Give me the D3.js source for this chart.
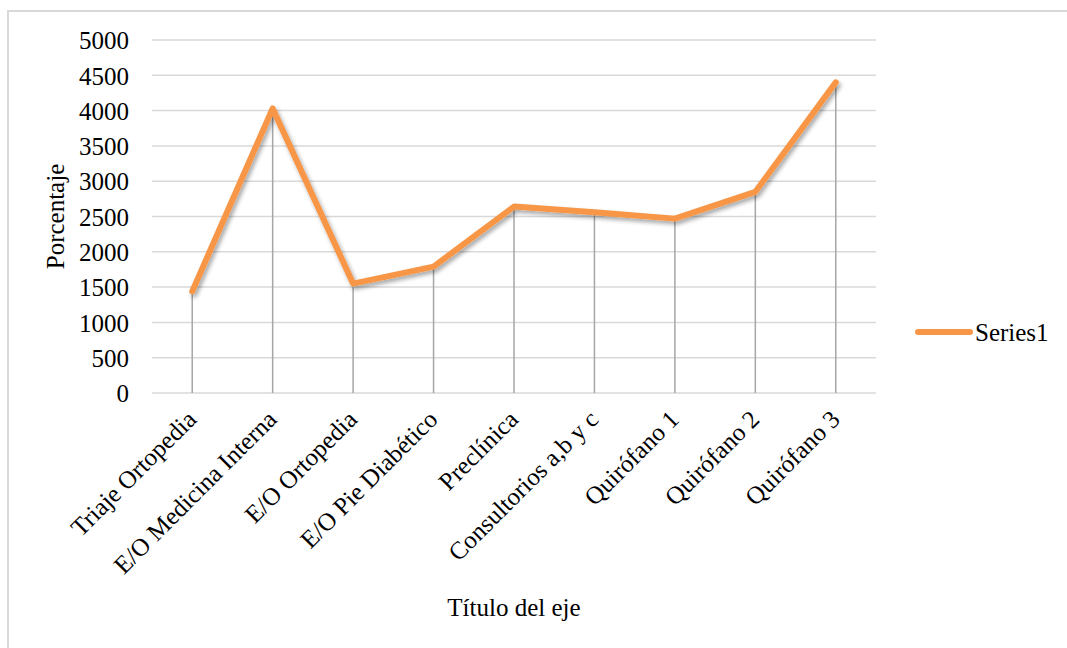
<!DOCTYPE html>
<html><head><meta charset="utf-8">
<script src="https://cdn.jsdelivr.net/npm/d3@7"></script>
<style>html,body{margin:0;padding:0;background:#fff;}svg{display:block;}</style>
</head><body>
<svg id="chart" width="1067" height="648"></svg>
<script>
const categories = ["Triaje Ortopedia","E/O Medicina Interna","E/O Ortopedia","E/O Pie Diabético","Preclínica","Consultorios a,b y c","Quirófano 1","Quirófano 2","Quirófano 3"];
const series1 = [1440, 4030, 1550, 1790, 2640, 2560, 2470, 2850, 4400];
const yTicks = [0,500,1000,1500,2000,2500,3000,3500,4000,4500,5000];
const seriesName = "Series1";
const yTitle = "Porcentaje";
const xTitle = "Título del eje";

const svg = d3.select("#chart");
const W = 1067, H = 648;
const font = "'Liberation Serif', serif";
const fs = 25;
const m = {left:152, right:1067-876, top:40, bottom:648-393};

svg.append("rect").attr("x",8).attr("y",11).attr("width",W+10).attr("height",H+10)
  .attr("fill","#fff").attr("stroke","#d9d9d9").attr("stroke-width",2);

const defs = svg.append("defs");
const f = defs.append("filter").attr("id","sh").attr("x","-10%").attr("y","-10%").attr("width","120%").attr("height","130%");
f.append("feDropShadow").attr("dx",2).attr("dy",3).attr("stdDeviation",2).attr("flood-color","#000").attr("flood-opacity",0.35);

const x = d3.scalePoint().domain(categories).range([m.left, W-m.right]).padding(0.5);
const y = d3.scaleLinear().domain([0,5000]).range([H-m.bottom, m.top]);

// gridlines
svg.append("g").selectAll("line").data(yTicks).join("line")
  .attr("x1",m.left).attr("x2",W-m.right)
  .attr("y1",d=>y(d)).attr("y2",d=>y(d))
  .attr("stroke","#d9d9d9").attr("stroke-width",1.5);

// y axis labels
const yAxis = d3.axisLeft(y).tickValues(yTicks).tickFormat(d3.format("d")).tickSize(0).tickPadding(0);
const gy = svg.append("g").attr("transform",`translate(${m.left-23},0)`).call(yAxis);
gy.select(".domain").remove();
gy.selectAll("text").attr("font-family",font).attr("font-size",fs).attr("fill","#000").attr("dy","0.35em");

// drop lines
svg.append("g").selectAll("line").data(categories).join("line")
  .attr("x1",d=>x(d)).attr("x2",d=>x(d))
  .attr("y1",(d,i)=>y(series1[i])).attr("y2",y(0))
  .attr("stroke","#a6a6a6").attr("stroke-width",1.5);

// x labels
const xAxis = d3.axisBottom(x).tickSize(0).tickPadding(0);
const gx = svg.append("g").attr("transform",`translate(0,${y(0)})`).call(xAxis);
gx.select(".domain").remove();
gx.selectAll("text").attr("font-family",font).attr("font-size",fs).attr("fill","#000")
  .attr("text-anchor","end").attr("dy",null).attr("y",null)
  .attr("transform","translate(5,28) rotate(-45)");

// line
const line = d3.line().x((d,i)=>x(categories[i])).y(d=>y(d));
svg.append("path").datum(series1).attr("d",line)
  .attr("fill","none").attr("stroke","#f79646").attr("stroke-width",6)
  .attr("stroke-linejoin","round").attr("stroke-linecap","round")
  .attr("filter","url(#sh)");

// axis titles
svg.append("text").attr("transform",`translate(64,${(y(0)+y(5000))/2}) rotate(-90)`)
  .attr("text-anchor","middle").attr("font-family",font).attr("font-size",fs).text(yTitle);
svg.append("text").attr("x",(m.left+W-m.right)/2).attr("y",616)
  .attr("text-anchor","middle").attr("font-family",font).attr("font-size",fs).text(xTitle);

// legend
svg.append("line").attr("x1",918).attr("x2",970).attr("y1",332).attr("y2",332)
  .attr("stroke","#f79646").attr("stroke-width",6).attr("stroke-linecap","round");
svg.append("text").attr("x",975).attr("y",341).attr("font-family",font).attr("font-size",fs).text(seriesName);
</script>
</body></html>
